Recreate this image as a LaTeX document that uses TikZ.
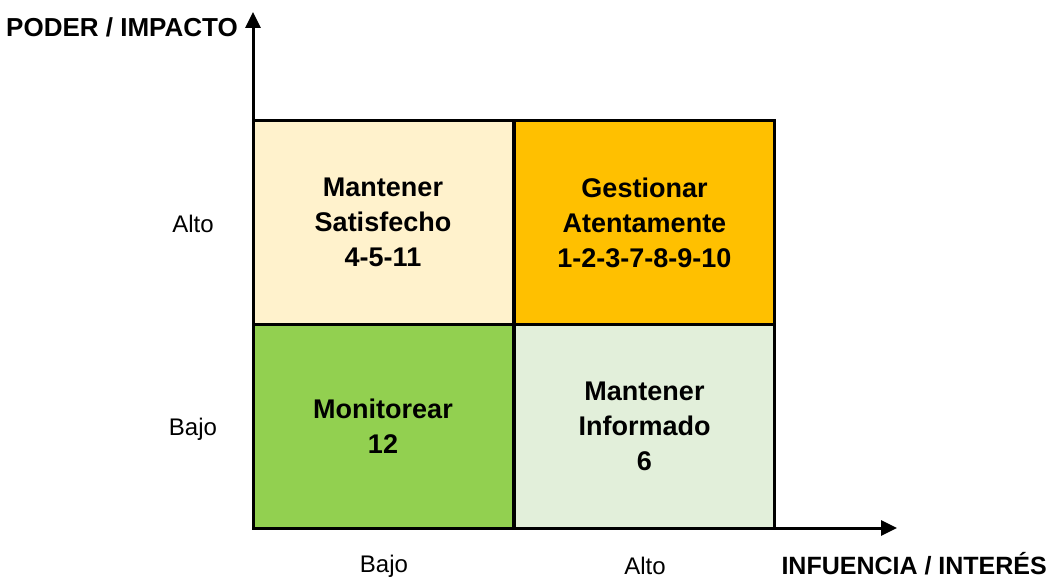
\documentclass[tikz,border=0pt]{standalone}
\usepackage{fontspec}
\setmainfont{Liberation Sans}
\usetikzlibrary{arrows.meta}
\definecolor{cTL}{HTML}{FFF2CC}
\definecolor{cTR}{HTML}{FFC000}
\definecolor{cBL}{HTML}{92D050}
\definecolor{cBR}{HTML}{E2EFDA}
\tikzset{
  quad/.style={draw=black, line width=3pt, minimum width=260pt, minimum height=204pt, inner sep=0pt, outer sep=0pt, align=center, font=\fontsize{27}{35}\selectfont\bfseries},
  lbl/.style={font=\fontsize{24}{28}\selectfont, inner sep=0pt},
  axlbl/.style={font=\fontsize{26}{30}\selectfont\bfseries, inner sep=0pt},
  axis/.style={line width=3pt, -{Triangle[length=16pt,width=15pt]}}
}
\begin{document}
\begin{tikzpicture}[x=1pt,y=-1pt]
\useasboundingbox (0,0) rectangle (1049,580);
\node[quad, fill=cTL] (tl) at (383,222.5) {Mantener\\Satisfecho\\4-5-11};
\node[quad, fill=cTR] (tr) at (644.5,222.5) {Gestionar\\Atentamente\\1-2-3-7-8-9-10};
\node[quad, fill=cBL] (bl) at (383,426.5) {Monitorear\\12};
\node[quad, fill=cBR] (br) at (644.5,426.5) {Mantener\\Informado\\6};
\coordinate (o) at (253,528);
\coordinate (ytip) at (253,12);
\coordinate (xtip) at (897,528);
\draw[axis] (o) -- (ytip);
\draw[axis] (o) -- (xtip);
\node[axlbl, anchor=east] (ylab) at (238,27) {PODER / IMPACTO};
\node[axlbl, anchor=east, font=\fontsize{25}{30}\selectfont\bfseries] (xlab) at (1047,564) {INFUENCIA / INTERÉS};
\node[lbl] (yalto) at (193,224) {Alto};
\node[lbl] (ybajo) at (193,429) {Bajo};
\node[lbl] (xbajo) at (384,566) {Bajo};
\node[lbl] (xalto) at (645,566) {Alto};
\end{tikzpicture}
\end{document}
